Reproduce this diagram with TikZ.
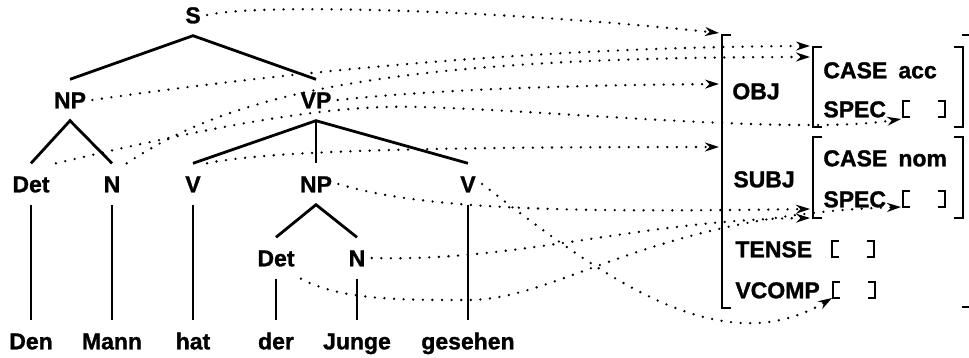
\documentclass[tikz,border=0pt]{standalone}
\usepackage{fontspec}
\setmainfont{Liberation Sans}[FakeBold=1.2]
\usetikzlibrary{arrows.meta}

\begin{document}
\begin{tikzpicture}[x=0.5pt, y=-0.5pt,
        cat/.style={font=\fontsize{11.5}{13}\selectfont\bfseries, inner xsep=3pt, inner ysep=6pt, text height=8.3pt, text depth=0pt},
        attr/.style={cat, inner sep=0pt, anchor=west},
        branch/.style={line width=1.4pt},
        fsbracket/.style={line width=1.2pt},
        link/.style={line width=1.3pt, line cap=round, dash pattern=on 0pt off 4.8pt,
            -{Stealth[open, length=7pt, width=4.5pt, line width=1pt]}},
        emptyfs/.pic={
            \draw[fsbracket] (7,-8) -- (0,-8) -- (0,8) -- (7,8);
            \draw[fsbracket] (35,-8) -- (42,-8) -- (42,8) -- (35,8);
        }
    ]
        \useasboundingbox (0,0) rectangle (969,358);
        % Phrase structure tree
        \node[cat] (s) at (193,15) {S};
        \node[cat] (np) at (70,100) {NP};
        \node[cat] (vp) at (316,100) {VP};
        \node[cat] (det1) at (31,184) {Det};
        \node[cat] (n1) at (112,184) {N};
        \node[cat] (v1) at (193,184) {V};
        \node[cat] (np2) at (316,184) {NP};
        \node[cat] (v2) at (468,184) {V};
        \node[cat] (det2) at (276,258) {Det};
        \node[cat] (n2) at (357,258) {N};
        % Words
        \foreach \w/\x/\t in {w1/31/Den, w2/112/Mann, w3/193/hat, w4/276/der, w5/357/Junge, w6/468/gesehen} {
            \node[cat] (\w) at (\x,341) {\t};
        }
        % Branches
        \draw[branch] (np.north) -- (s.south) -- (vp.north);
        \draw[branch] (det1.north) -- (np.south) -- (n1.north);
        \draw[branch] (v1.north) -- (vp.south) -- (v2.north);
        \draw[branch] (vp.south) -- (np2.north);
        \draw[branch] (det2.north) -- (np2.south) -- (n2.north);
        \foreach \c/\w in {det1/w1, n1/w2, v1/w3, det2/w4, n2/w5, v2/w6} {
            \draw[branch] (\c.south) -- (\w.north);
        }
        % f-structure attributes
        \node[attr] (obj) at (732,91) {OBJ};
        \node[attr] (case1) at (823,70) {CASE};
        \node[attr] (acc) at (898,70) {acc};
        \node[attr] (spec1) at (823,109) {SPEC};
        \node[attr] (subj) at (733,179) {SUBJ};
        \node[attr] (case2) at (823,158) {CASE};
        \node[attr] (nom) at (898,158) {nom};
        \node[attr] (spec2) at (823,199) {SPEC};
        \node[attr] (tense) at (735,249) {TENSE};
        \node[attr] (vcomp) at (735,290) {VCOMP};
        \pic at (903,109) {emptyfs};
        \pic at (903,199) {emptyfs};
        \pic at (832,249) {emptyfs};
        \pic at (833,290) {emptyfs};
        % f-structure brackets
        \draw[fsbracket] (731,35) -- (722,35) -- (722,308) -- (731,308);
        \draw[fsbracket] (962,35) -- (969,35);
        \draw[fsbracket] (962,307) -- (969,307);
        \foreach \t/\b in {47/127, 137/218} {
            \draw[fsbracket] (822,\t) -- (813,\t) -- (813,\b) -- (822,\b);
            \draw[fsbracket] (954,\t) -- (963,\t) -- (963,\b) -- (954,\b);
        }
        % Arrow ends
        \coordinate (fs) at (719,33);
        \coordinate (fsvp) at (719,84);
        \coordinate (fsv) at (719,147);
        \coordinate (fobj1) at (810,46);
        \coordinate (fobj2) at (810,57);
        \coordinate (fspec1) at (901,119);
        \coordinate (fsubj1) at (810,209);
        \coordinate (fsubj2) at (810,218);
        \coordinate (fspec2) at (901,207);
        \coordinate (fvcomp) at (832,298);
        % Projection links
        \draw[link] (s.east) .. controls (260,3) and (500,10) .. (fs);
        \draw[link] (np.east) .. controls (300,70) and (550,47) .. (fobj1);
        \draw[link] (n1.north east) .. controls (230,95) and (380,57) .. (fobj2);
        \draw[link] (det1.north east) .. controls (220,125) and (330,104) .. (420,107)
            .. controls (560,111) and (800,135) .. (fspec1);
        \draw[link] (vp.east) .. controls (450,88) and (600,85) .. (fsvp);
        \draw[link] (v1.north east) .. controls (270,150) and (450,147) .. (fsv);
        \draw[link] (np2.east) .. controls (430,212) and (600,212) .. (fsubj1);
        \draw[link] (n2.east) .. controls (520,262) and (640,220) .. (fsubj2);
        \draw[link] (det2.south east) .. controls (340,300) and (400,300) .. (468,300)
            .. controls (560,300) and (650,215) .. (fspec2);
        \draw[link] (v2.east) .. controls (600,275) and (720,365) .. (fvcomp);
    \end{tikzpicture}
\end{document}
